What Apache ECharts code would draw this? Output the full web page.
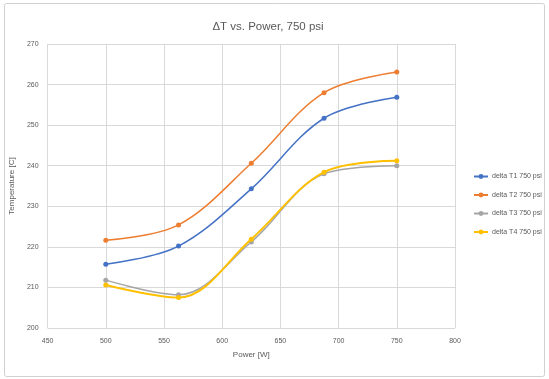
<!DOCTYPE html>
<html>
<head>
<meta charset="utf-8">
<script src="https://cdn.jsdelivr.net/npm/echarts@6/dist/echarts.min.js"></script>
<style>
  html, body { margin: 0; padding: 0; background: #fff; }
  #chart { width: 549px; height: 379px; }
</style>
</head>
<body>
<div id="chart"></div>
<script>
// Power levels (W)
const power = [500, 562.5, 625, 687.5, 750];

// Temperature rise per thermocouple (C)
const deltaT1 = [215.7, 220.2, 234.3, 251.7, 256.9];
const deltaT2 = [221.6, 225.4, 240.6, 258.0, 263.1];
const deltaT3 = [211.8, 208.2, 221.2, 238.0, 240.0];
const deltaT4 = [210.6, 207.5, 221.9, 238.4, 241.2];

const seriesNames = ['delta T1 750 psi', 'delta T2 750 psi', 'delta T3 750 psi', 'delta T4 750 psi'];
const seriesColors = ['#4472C4', '#ED7D31', '#A5A5A5', '#FFC000'];
const seriesData = [deltaT1, deltaT2, deltaT3, deltaT4];

const font = '"Liberation Sans", Arial, sans-serif';
const textGray = '#595959';

const chart = echarts.init(document.getElementById('chart'), null, { renderer: 'canvas' });

chart.setOption({
  backgroundColor: '#fff',
  animation: false,
  title: {
    text: 'ΔT vs. Power, 750 psi',
    left: 263, top: 16, textAlign: 'center',
    textStyle: { fontFamily: font, fontSize: 11.5, fontWeight: 'normal', color: textGray }
  },
  grid: { left: 47, right: 94, top: 44, bottom: 51, containLabel: false },
  legend: {
    orient: 'vertical',
    left: 468, top: 168,
    itemGap: 11.5, itemWidth: 14, itemHeight: 6,
    textStyle: { fontFamily: font, fontSize: 7, color: textGray, padding: [0, 0, 0, -1] },
    data: seriesNames
  },
  xAxis: {
    type: 'value', min: 450, max: 800, interval: 50,
    name: 'Power [W]', nameLocation: 'middle', nameGap: 23,
    nameTextStyle: { fontFamily: font, fontSize: 8, color: textGray },
    axisLine: { show: false }, axisTick: { show: false },
    axisLabel: { fontFamily: font, fontSize: 7, color: textGray, margin: 10 },
    splitLine: { show: true, lineStyle: { color: '#d9d9d9', width: 1 } }
  },
  yAxis: {
    type: 'value', min: 200, max: 270, interval: 10,
    name: 'Temperature [C]', nameLocation: 'middle', nameGap: 25,
    nameTextStyle: { fontFamily: font, fontSize: 8, color: textGray },
    axisLine: { show: false }, axisTick: { show: false },
    axisLabel: { fontFamily: font, fontSize: 7, color: textGray, margin: 9 },
    splitLine: { show: true, lineStyle: { color: '#d9d9d9', width: 1 } }
  },
  graphic: [{
    type: 'rect',
    shape: { x: 4.5, y: 3.5, width: 540, height: 373, r: 2 },
    style: { fill: 'none', stroke: '#d0d0d0', lineWidth: 1 },
    silent: true
  }],
  series: seriesData.map((vals, i) => ({
    name: seriesNames[i],
    type: 'line',
    smooth: 0.35,
    symbol: 'circle',
    symbolSize: 5,
    data: power.map((p, j) => [p, vals[j]]),
    itemStyle: { color: seriesColors[i] },
    lineStyle: { color: seriesColors[i], width: i === 3 ? 2 : 1.5 },
    z: i === 3 ? 3 : 2
  }))
});
</script>
</body>
</html>
